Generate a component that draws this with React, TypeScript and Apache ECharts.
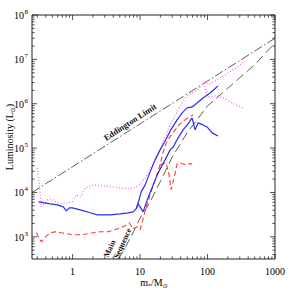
import React, { useEffect, useRef } from "react";
import * as echarts from "echarts";

// ---- axis ranges & ticks ----
const xMin = 0.25;
const xMax = 1000;
const yMin = 316.23;
const yMax = 1e8;
const xMajorTicks = [1, 10, 100, 1000];
const xTickLabels = ["1", "10", "100", "1000"];
const yMajorTicks = [1e3, 1e4, 1e5, 1e6, 1e7, 1e8];
const yTickExponents = ["3", "4", "5", "6", "7", "8"];

// ---- curves: [mass (Msun), luminosity (Lsun)] ----
const eddington = [
  [0.25, 1.0e4],
  [1000, 3.0e7],
];

const mainSequence = [
  [4.8, 316], [5, 355], [6, 562], [8, 1320], [10, 2630], [14, 6030], [20, 17800],
  [30, 63100], [50, 224000], [100, 891000], [200, 2240000], [500, 7590000], [1000, 23400000],
];

const blueTrack = [
  [0.311, 6140], [0.381, 5830], [0.468, 5540], [0.594, 5260], [0.728, 4740], [0.807, 3850],
  [0.894, 4500], [0.99, 4500], [1.3, 4060], [1.83, 3480], [2.32, 3130], [3.61, 3130],
  [5.07, 3300], [6.67, 3480], [7.9, 3660], [8.75, 4270], [9.37, 5830], [10.4, 10300],
  [11.9, 14800], [14.1, 29100], [16.7, 54200], [19.8, 91100], [23.5, 145000], [27.9, 244000],
  [35.4, 432000], [42, 621000], [49.8, 804000], [59, 847000], [70, 1040000], [85.8, 1350000],
  [109, 1750000], [143, 2520000],
];

const blueBranch = [
  [8.75, 4270], [9.37, 5540], [10.0, 4740], [11.1, 3660], [12.3, 5830], [14.6, 11500],
  [18.5, 27600], [23.5, 54200], [27.9, 91100], [30.9, 106000], [36.6, 170000], [43.4, 257000],
  [51.5, 351000], [59, 479000], [65.3, 257000], [72.4, 370000], [85.8, 333000], [98.3, 300000],
  [117, 220000], [143, 188000],
];

const magentaTrack = [
  [0.301, 35800], [0.322, 14800], [0.344, 4740], [0.381, 5540], [0.422, 6810], [0.484, 7180],
  [0.594, 5830], [0.704, 5540], [0.835, 5830], [0.99, 6140], [1.13, 8840], [1.3, 7970],
  [1.54, 12700], [2.02, 14800], [2.84, 14100], [3.74, 13400], [5.07, 12700], [6.67, 12100],
  [7.9, 12700], [9.37, 14100], [10.7, 17300], [11.9, 21300], [13.2, 27600], [14.6, 37800],
  [17.3, 60100], [19.8, 91100], [23.5, 179000], [27.9, 333000], [35.4, 653000], [42, 1040000],
  [48.1, 1420000], [55.1, 1660000], [70, 2050000], [80.2, 2520000], [88.8, 2940000],
  [109, 2790000], [129, 3260000], [153, 3810000], [182, 4450000], [215, 5200000],
  [264, 6400000], [303, 7480000], [335, 8730000],
];

const magentaBranch = [
  [88.8, 2940000], [95, 1850000], [102, 1420000], [121, 1500000], [143, 1500000],
  [182, 1280000], [230, 1040000], [283, 892000], [335, 804000],
];

const redTrack = [
  [0.29, 1230], [0.311, 1000], [0.344, 771], [0.394, 1000], [0.468, 1230], [0.555, 1300],
  [0.68, 1230], [0.835, 1170], [1.06, 1110], [1.35, 1110], [2.02, 1230], [2.57, 1300],
  [3.37, 1300], [4.14, 1440], [5.07, 1590], [6.02, 1770], [6.9, 2070], [7.9, 1510],
  [9.06, 1680], [10, 1440], [11.1, 2540], [12.3, 4740], [14.6, 10300], [17.3, 22400],
  [19.8, 41900], [22, 82100], [25.2, 145000], [29.8, 209000], [34.2, 271000], [39.2, 351000],
  [46.5, 432000], [53.2, 505000], [61.1, 559000],
];

const redBranch = [
  [19.8, 41900], [24.3, 46400], [26.9, 24900], [28.8, 11500], [31.9, 21300], [35.4, 44100],
  [39.2, 46400], [46.5, 41900], [53.2, 44100], [59, 44100],
];

const FONT = "Liberation Serif, DejaVu Serif, serif";

function minorTicks(lo: number, hi: number): number[] {
  const out: number[] = [];
  for (let d = -2; d <= 8; d++) {
    for (let k = 2; k <= 9; k++) {
      const v = k * Math.pow(10, d);
      if (v > lo && v < hi) out.push(v);
    }
  }
  return out;
}

function line(name: string, data: number[][], color: string, type: any, width: number, z = 2) {
  return {
    type: "line",
    name,
    data,
    showSymbol: false,
    symbol: "none",
    silent: true,
    z,
    clip: true,
    lineStyle: { color, type, width },
  };
}

export default function App() {
  const ref = useRef<HTMLDivElement>(null);
  useEffect(() => {
    if (!ref.current) return;
    const chart = echarts.init(ref.current, undefined, { renderer: "svg" });
    const xMinor = minorTicks(xMin, xMax);
    const yMinor = minorTicks(yMin, yMax);

    const option: any = {
      animation: false,
      grid: {
        left: 32,
        right: 16,
        top: 15,
        bottom: 32,
        show: true,
        borderColor: "#222",
        borderWidth: 1,
        backgroundColor: "transparent",
      },
      xAxis: {
        type: "log",
        logBase: 10,
        min: xMin,
        max: xMax,
        axisLine: { show: false },
        axisTick: { show: false },
        axisLabel: { show: false },
        splitLine: { show: false },
      },
      yAxis: {
        type: "log",
        logBase: 10,
        min: yMin,
        max: yMax,
        axisLine: { show: false },
        axisTick: { show: false },
        axisLabel: { show: false },
        splitLine: { show: false },
      },
      series: [
        line("Eddington", eddington, "#333", [9, 2.5, 1.5, 2.5], 0.8, 1),
        line("Main Sequence", mainSequence, "#333", [9, 4.5], 0.8, 1),
        line("blueTrack", blueTrack, "#2c2cf0", "solid", 1.2, 3),
        line("blueBranch", blueBranch, "#2c2cf0", "solid", 1.2, 3),
        line("magentaTrack", magentaTrack, "#ff55ff", [1, 2], 1.2, 2),
        line("magentaBranch", magentaBranch, "#ff55ff", [1, 2], 1.2, 2),
        line("redTrack", redTrack, "#ff3838", [5, 3], 1.1, 2),
        line("redBranch", redBranch, "#ff3838", [5, 3], 1.1, 2),
        {
          type: "custom",
          coordinateSystem: "cartesian2d",
          data: [[1, 1000]],
          clip: false,
          silent: true,
          z: 10,
          renderItem: (_params: any, api: any) => {
            const children: any[] = [];
            const tl = api.coord([xMin, yMax]);
            const br = api.coord([xMax, yMin]);
            const top = tl[1];
            const bottom = br[1];
            const left = tl[0];
            const right = br[0];
            const tick = (x1: number, y1: number, x2: number, y2: number) =>
              children.push({
                type: "line",
                shape: { x1, y1, x2, y2 },
                style: { stroke: "#222", lineWidth: 0.8 },
              });
            const MAJ = 5;
            const MIN = 2.6;
            xMajorTicks.forEach((v, i) => {
              const x = api.coord([v, yMin])[0];
              tick(x, bottom, x, bottom - MAJ);
              tick(x, top, x, top + MAJ);
              children.push({
                type: "text",
                x,
                y: 271,
                style: {
                  text: xTickLabels[i],
                  fill: "#000",
                  font: `10px ${FONT}`,
                  align: "center",
                  verticalAlign: "middle",
                  textAlign: "center",
                  textVerticalAlign: "middle",
                },
              });
            });
            xMinor.forEach((v) => {
              const x = api.coord([v, yMin])[0];
              tick(x, bottom, x, bottom - MIN);
              tick(x, top, x, top + MIN);
            });
            yMajorTicks.forEach((v, i) => {
              const y = api.coord([xMin, v])[1];
              tick(left, y, left + MAJ, y);
              tick(right, y, right - MAJ, y);
              children.push({
                type: "text",
                x: 24,
                y: y + 0.5,
                style: {
                  text: "10",
                  fill: "#000",
                  font: `10px ${FONT}`,
                  align: "right",
                  verticalAlign: "middle",
                  textAlign: "right",
                  textVerticalAlign: "middle",
                },
              });
              children.push({
                type: "text",
                x: 24.5,
                y: y - 3,
                style: {
                  text: yTickExponents[i],
                  fill: "#000",
                  font: `7px ${FONT}`,
                  align: "left",
                  verticalAlign: "middle",
                  textAlign: "left",
                  textVerticalAlign: "middle",
                },
              });
            });
            yMinor.forEach((v) => {
              const y = api.coord([xMin, v])[1];
              tick(left, y, left + MIN, y);
              tick(right, y, right - MIN, y);
            });
            return { type: "group", children };
          },
        },
      ],
      graphic: [
        {
          type: "text",
          x: 9,
          y: 137,
          rotation: Math.PI / 2,
          style: {
            text: "{n|Luminosity (L}{s|⊙}{n|)}",
            align: "center",
            verticalAlign: "middle",
            textAlign: "center",
            textVerticalAlign: "middle",
            fill: "#000",
            rich: {
              n: { fontSize: 10, fontFamily: FONT, lineHeight: 13, fill: "#000" },
              s: { fontSize: 6, fontFamily: "DejaVu Sans", verticalAlign: "bottom", fill: "#000" },
            },
          },
        },
        {
          type: "text",
          x: 154,
          y: 282,
          style: {
            text: "{n|m}{s|*}{n|/M}{s|⊙}",
            align: "center",
            verticalAlign: "middle",
            textAlign: "center",
            textVerticalAlign: "middle",
            fill: "#000",
            rich: {
              n: { fontSize: 10, fontFamily: FONT, lineHeight: 13, fill: "#000" },
              s: { fontSize: 6, fontFamily: "DejaVu Sans", verticalAlign: "bottom", fill: "#000" },
            },
          },
        },
        {
          type: "text",
          x: 130,
          y: 122,
          rotation: 0.575,
          style: {
            text: "Eddington Limit",
            font: `bold 8.5px ${FONT}`,
            fill: "#111",
            align: "center",
            verticalAlign: "middle",
            textAlign: "center",
            textVerticalAlign: "middle",
          },
        },
        {
          type: "text",
          x: 106,
          y: 257,
          rotation: 1.15,
          style: {
            text: "Main",
            font: `bold 8px ${FONT}`,
            fill: "#111",
            align: "left",
            verticalAlign: "middle",
            textAlign: "left",
            textVerticalAlign: "middle",
          },
        },
        {
          type: "text",
          x: 116,
          y: 258,
          rotation: 1.15,
          style: {
            text: "Sequence",
            font: `bold 8px ${FONT}`,
            fill: "#111",
            align: "left",
            verticalAlign: "middle",
            textAlign: "left",
            textVerticalAlign: "middle",
          },
        },
      ],
    };
    chart.setOption(option);
    return () => chart.dispose();
  }, []);
  return (
    <div
      ref={ref}
      style={{ position: "fixed", left: 0, top: 0, width: 291, height: 291, background: "#fff" }}
    />
  );
}
